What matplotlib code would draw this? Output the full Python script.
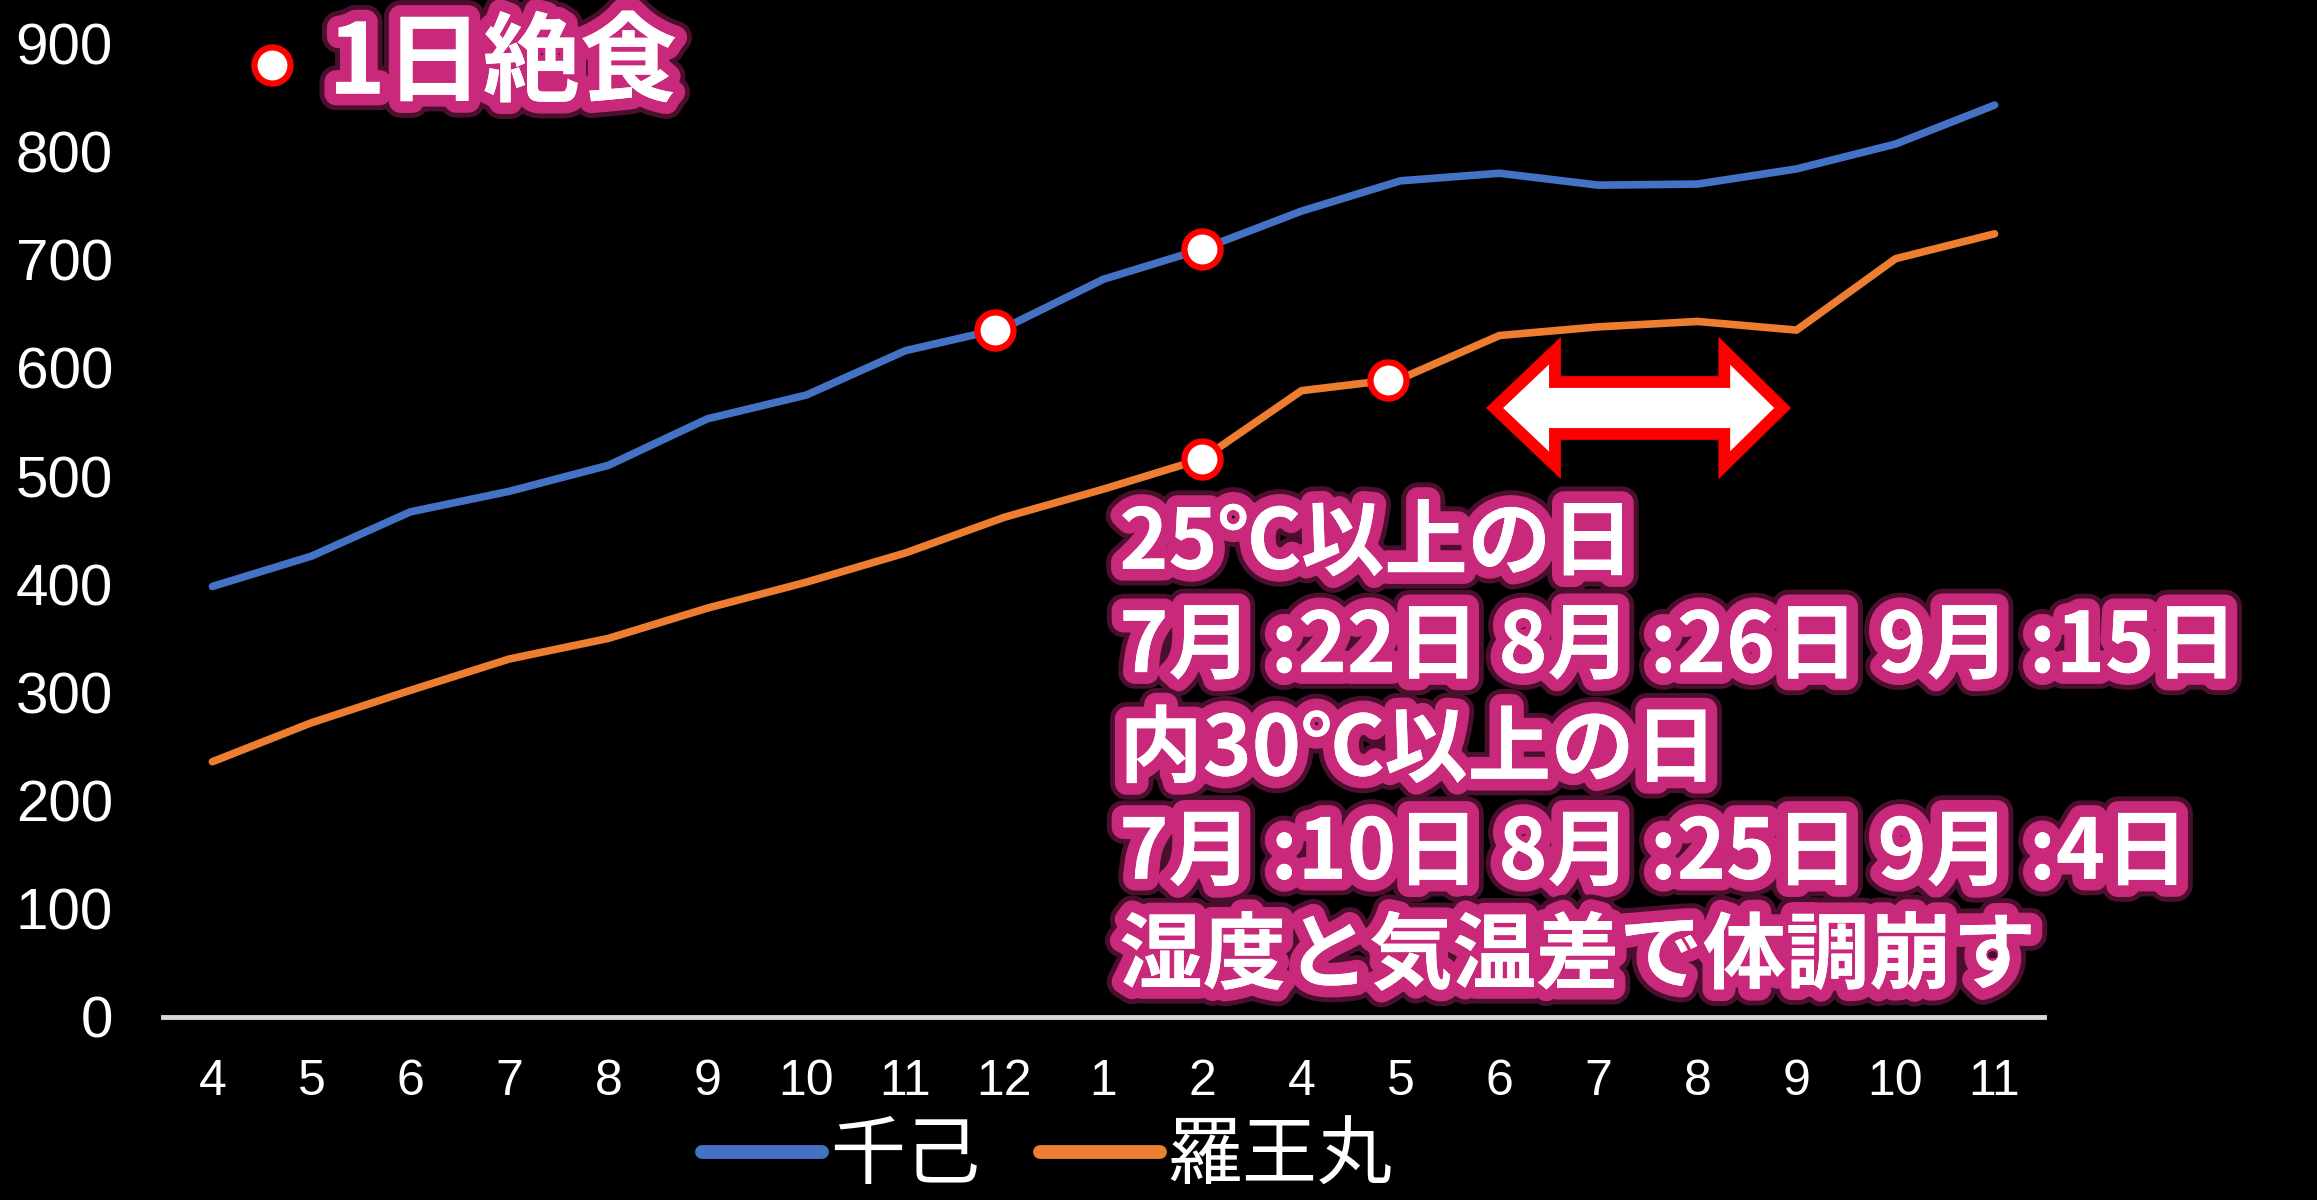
"""Weight growth of two fish, with temperature notes."""

import matplotlib
matplotlib.use("Agg")
import matplotlib.pyplot as plt
import matplotlib.patheffects as pe
import numpy as np
from matplotlib import font_manager
from matplotlib.patches import Polygon

# data
months = ["4", "5", "6", "7", "8", "9", "10", "11", "12", "1", "2",
          "4", "5", "6", "7", "8", "9", "10", "11"]
senki = [398, 426, 467, 486, 510, 553, 575, 616, 637, 682, 710,
         745, 773, 780, 769, 770, 784, 807, 843]
raoumaru = [236, 272, 302, 331, 350, 378, 402, 429, 462, 488, 516,
            579, 590, 630, 638, 643, 635, 701, 724]
fast_senki_x = [7.9, 10.0]
fast_raou_x = [10.0, 11.87]
note_lines = ["25℃以上の日",
              "7月 :22日 8月 :26日 9月 :15日",
              "内30℃以上の日",
              "7月 :10日 8月 :25日 9月 :4日",
              "湿度と気温差で体調崩す"]

BLUE = "#4472C4"
ORANGE = "#ED7D31"
GLOW = "#C9297A"

installed = {f.name for f in font_manager.fontManager.ttflist}
num_font = next((f for f in ["Liberation Sans Narrow", "Liberation Sans", "DejaVu Sans"] if f in installed))
jp = ["Noto Sans CJK JP", "DejaVu Sans"]

fig = plt.figure(figsize=(23.17, 12), dpi=100, facecolor="black")
ax = fig.add_axes([0.0703, 0.1525, 0.8119, 0.8113], facecolor="black")

x = np.arange(len(months))
ax.plot(x, senki, color=BLUE, lw=5.5, solid_capstyle="round", label="千己")
ax.plot(x, raoumaru, color=ORANGE, lw=5.5, solid_capstyle="round", label="羅王丸")

marker_kw = dict(marker="o", ms=26, mfc="white", mec="#FF0000", mew=4.5, ls="none", zorder=5)
ax.plot(fast_senki_x, np.interp(fast_senki_x, x, senki), **marker_kw)
ax.plot(fast_raou_x, np.interp(fast_raou_x, x, raoumaru), **marker_kw)

ax.set_xlim(-0.5, len(months) - 0.5)
ax.set_ylim(0, 900)
ax.set_yticks(range(0, 901, 100))
ax.set_xticks(x)
ax.set_xticklabels(months)
ax.tick_params(axis="y", length=0, pad=36, labelsize=42, labelcolor="white")
ax.tick_params(axis="x", length=0, pad=30, labelsize=36, labelcolor="white")
for lab in ax.get_xticklabels() + ax.get_yticklabels():
    lab.set_fontfamily(num_font)
for side in ["top", "right", "left"]:
    ax.spines[side].set_visible(False)
ax.spines["bottom"].set_color("#D9D9D9")
ax.spines["bottom"].set_linewidth(3.5)

glow = [pe.withStroke(linewidth=24, foreground="#4a0f2c"),
        pe.withStroke(linewidth=17, foreground=GLOW),
        pe.Normal()]

# legend for fasting marker
ax.plot([0.6], [880], clip_on=False, **marker_kw)
ax.text(1.17, 880, "1日絶食", family=jp, weight="bold", fontsize=70, color="white",
        va="center", ha="left", path_effects=glow, clip_on=False)

# temperature notes
for i, line in enumerate(note_lines):
    ax.text(9.16, 437 - i * 95.5, line, family=jp, weight="bold", fontsize=60,
            color="white", va="center", ha="left", path_effects=glow, clip_on=False)

# double arrow over the hot summer months
cy, hh, sh = 563, 53, 24
tip_l, base_l, base_r, tip_r = 12.95, 13.56, 15.27, 15.86
arrow = Polygon([(tip_l, cy), (base_l, cy + hh), (base_l, cy + sh), (base_r, cy + sh),
                 (base_r, cy + hh), (tip_r, cy), (base_r, cy - hh), (base_r, cy - sh),
                 (base_l, cy - sh), (base_l, cy - hh)],
                closed=True, facecolor="white", edgecolor="#FF0000", lw=8.5, joinstyle="miter", zorder=6)
ax.add_patch(arrow)

leg = fig.legend(loc="center", bbox_to_anchor=(0.452, 0.036), ncol=2, frameon=False,
                 prop=font_manager.FontProperties(family=jp, size=54),
                 handlelength=1.6, handletextpad=0.1, columnspacing=0.8,
                 borderpad=0.1)
for t in leg.get_texts():
    t.set_color("white")
for h in leg.get_lines():
    h.set_linewidth(10)

fig.savefig("out.png", dpi=100, facecolor="black")
